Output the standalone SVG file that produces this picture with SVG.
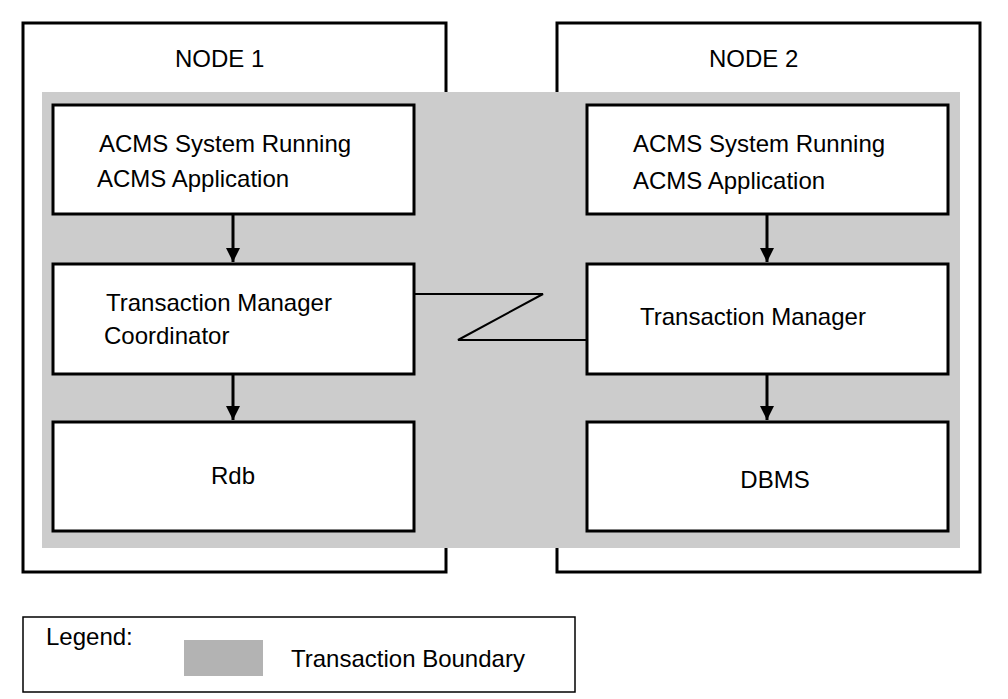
<svg xmlns="http://www.w3.org/2000/svg" width="1008" height="699" viewBox="0 0 1008 699">
<style>
.outer{fill:none;stroke:#000;stroke-width:3}
.box{fill:#fff;stroke:#000;stroke-width:3}
text{font-family:"Liberation Sans",Arial,sans-serif;font-size:24px;fill:#000}
.c{stroke:#000;stroke-width:3;fill:none}
</style>
<defs><marker id="a" markerWidth="10" markerHeight="10" refX="9" refY="5" orient="auto" markerUnits="userSpaceOnUse" viewBox="0 0 10 10"><path d="M0,0 L10,5 L0,10 z" fill="#000"/></marker>
<marker id="ah" markerWidth="14" markerHeight="18" refX="14" refY="7" orient="auto" markerUnits="userSpaceOnUse"><path d="M0,0 L14,7 L0,14 z" fill="#000"/></marker></defs>
<rect width="1008" height="699" fill="#fff"/>
<g id="node1"><rect class="outer" x="23" y="23" width="423" height="549"/><text x="175" y="67">NODE 1</text></g>
<g id="node2"><rect class="outer" x="557" y="23" width="423" height="549"/><text x="709" y="67">NODE 2</text></g>
<rect id="boundary" x="42" y="92" width="918" height="456" fill="#cccccc"/>
<g id="acms1"><rect class="box" x="53" y="105" width="361" height="109"/><text x="99" y="152">ACMS System Running</text><text x="97" y="187">ACMS Application</text></g>
<g id="tmc"><rect class="box" x="53" y="264" width="361" height="110"/><text x="106" y="311">Transaction Manager</text><text x="104" y="344">Coordinator</text></g>
<g id="rdb"><rect class="box" x="53" y="422" width="361" height="109"/><text x="233" y="484" text-anchor="middle">Rdb</text></g>
<g id="acms2"><rect class="box" x="587" y="105" width="361" height="109"/><text x="633" y="152">ACMS System Running</text><text x="633" y="189">ACMS Application</text></g>
<g id="tm"><rect class="box" x="587" y="264" width="361" height="110"/><text x="640" y="325">Transaction Manager</text></g>
<g id="dbms"><rect class="box" x="587" y="422" width="361" height="109"/><text x="775" y="488" text-anchor="middle">DBMS</text></g>
<g id="connectors">
<line class="c" x1="233" y1="214" x2="233" y2="262" marker-end="url(#ah)"/>
<line class="c" x1="233" y1="374" x2="233" y2="420" marker-end="url(#ah)"/>
<line class="c" x1="767" y1="214" x2="767" y2="262" marker-end="url(#ah)"/>
<line class="c" x1="767" y1="374" x2="767" y2="420" marker-end="url(#ah)"/>
<polyline points="414,294 543,294 458,340 587,340" fill="none" stroke="#000" stroke-width="2"/>
</g>
<g id="legend"><rect x="23" y="617" width="552" height="75" fill="none" stroke="#000" stroke-width="1.5"/><text x="46" y="645">Legend:</text><rect x="184" y="640" width="79" height="36" fill="#b3b3b3"/><text x="291" y="667">Transaction Boundary</text></g>
</svg>
